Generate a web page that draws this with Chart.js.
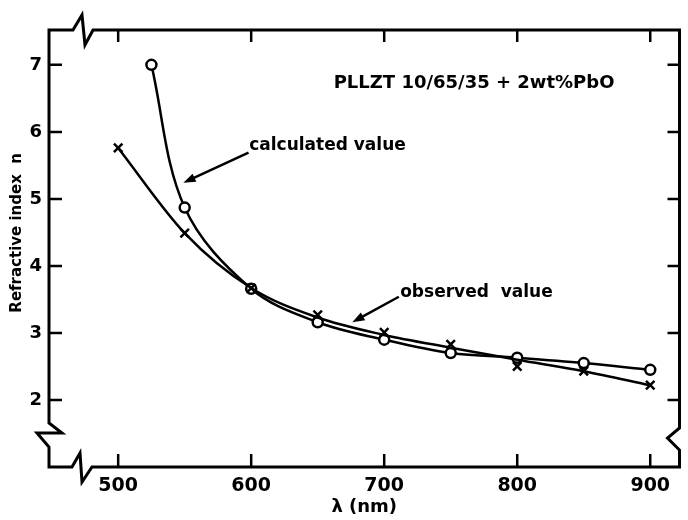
<!DOCTYPE html>
<html>
<head>
<meta charset="utf-8">
<script src="https://cdn.jsdelivr.net/npm/chart.js@4/dist/chart.umd.min.js"></script>
<style>
  html, body { margin: 0; padding: 0; background: #fff; }
  #wrap { width: 688px; height: 520px; position: relative; }
</style>
</head>
<body>
<div id="wrap"><canvas id="myChart"></canvas></div>
<script>
// ---------- Datos ----------
const observedWavelengths = [500, 550, 600, 650, 700, 750, 800, 850, 900];
const observedValues = [5.76, 4.49, 3.67, 3.27, 3.01, 2.83, 2.50, 2.43, 2.22];
// curva suave trazada a mano por los puntos observados
const observedCurve = [5.76, 4.49, 3.67, 3.23, 2.97, 2.78, 2.60, 2.43, 2.22];
const calculatedWavelengths = [525, 550, 600, 650, 700, 750, 800, 850, 900];
const calculatedValues = [7.0, 4.87, 3.66, 3.16, 2.90, 2.70, 2.63, 2.55, 2.45];
const xTicks = [500, 600, 700, 800, 900];
const yTicks = [2, 3, 4, 5, 6, 7];

const FONT = "'DejaVu Sans', sans-serif";

// notas en coordenadas de datos
const notas = [
  { text: 'PLLZT 10/65/35 + 2wt%PbO', x: 662, y: 6.73, size: 18 },
  { text: 'calculated value', x: 598.5, y: 5.79, size: 17 },
  { text: 'observed  value', x: 712, y: 3.60, size: 17 }
];
const flechas = [
  { from: [598, 5.69], to: [549, 5.24] },
  { from: [711, 3.54], to: [676, 3.16] }
];

function puntos(xs, ys) {
  return xs.map((x, i) => ({ x: x, y: ys[i] }));
}

// ---------- Marco con cortes y ticks hacia dentro ----------
const marco = {
  id: 'marco',
  beforeDatasetsDraw(chart) {
    const ctx = chart.ctx;
    const a = chart.chartArea;
    const L = a.left, R = a.right, T = a.top, B = a.bottom;
    const sx = chart.scales.x, sy = chart.scales.y;

    ctx.save();
    ctx.strokeStyle = '#000';
    ctx.lineWidth = 3;
    ctx.lineJoin = 'miter';
    ctx.beginPath();
    ctx.moveTo(L, B);
    ctx.lineTo(L, B - 20);
    ctx.lineTo(L - 12, B - 34);
    ctx.lineTo(L + 13, B - 34);
    ctx.lineTo(L, B - 44);
    ctx.lineTo(L, T);
    ctx.lineTo(L + 24, T);
    ctx.lineTo(L + 33, T - 15);
    ctx.lineTo(L + 36, T + 15);
    ctx.lineTo(L + 44, T);
    ctx.lineTo(R, T);
    ctx.lineTo(R, B - 39);
    ctx.lineTo(R - 12, B - 29);
    ctx.lineTo(R, B - 17);
    ctx.lineTo(R, B);
    ctx.lineTo(L + 43, B);
    ctx.lineTo(L + 33, B + 15);
    ctx.lineTo(L + 31, B - 14);
    ctx.lineTo(L + 23, B);
    ctx.closePath();
    ctx.stroke();

    ctx.lineWidth = 2.5;
    ctx.beginPath();
    xTicks.forEach(v => {
      const px = sx.getPixelForValue(v);
      ctx.moveTo(px, B); ctx.lineTo(px, B - 13);
      ctx.moveTo(px, T); ctx.lineTo(px, T + 12);
    });
    yTicks.forEach(v => {
      const py = sy.getPixelForValue(v);
      ctx.moveTo(L, py); ctx.lineTo(L + 13, py);
      ctx.moveTo(R, py); ctx.lineTo(R - 12, py);
    });
    ctx.stroke();
    ctx.restore();
  },
  afterDatasetsDraw(chart) {
    const ctx = chart.ctx;
    const sx = chart.scales.x, sy = chart.scales.y;
    ctx.save();
    ctx.fillStyle = '#000';
    ctx.strokeStyle = '#000';
    ctx.textBaseline = 'middle';
    ctx.textAlign = 'left';
    notas.forEach(n => {
      ctx.font = 'bold ' + n.size + 'px ' + FONT;
      ctx.fillText(n.text, sx.getPixelForValue(n.x), sy.getPixelForValue(n.y));
    });
    flechas.forEach(f => {
      const x1 = sx.getPixelForValue(f.from[0]), y1 = sy.getPixelForValue(f.from[1]);
      const x2 = sx.getPixelForValue(f.to[0]), y2 = sy.getPixelForValue(f.to[1]);
      const ang = Math.atan2(y2 - y1, x2 - x1);
      ctx.lineWidth = 2.5;
      ctx.beginPath();
      ctx.moveTo(x1, y1);
      ctx.lineTo(x2 - 8 * Math.cos(ang), y2 - 8 * Math.sin(ang));
      ctx.stroke();
      ctx.beginPath();
      ctx.moveTo(x2, y2);
      ctx.lineTo(x2 - 13 * Math.cos(ang - 0.35), y2 - 13 * Math.sin(ang - 0.35));
      ctx.lineTo(x2 - 13 * Math.cos(ang + 0.35), y2 - 13 * Math.sin(ang + 0.35));
      ctx.closePath();
      ctx.fill();
    });
    ctx.restore();
  }
};

// ---------- Gráfica ----------
const ctx = document.getElementById('myChart').getContext('2d');

new Chart(ctx, {
  type: 'line',
  data: {
    datasets: [
      {
        label: 'observed curve',
        data: puntos(observedWavelengths, observedCurve),
        borderColor: '#000',
        borderWidth: 2.5,
        cubicInterpolationMode: 'monotone',
        pointRadius: 0
      },
      {
        label: 'observed value',
        data: puntos(observedWavelengths, observedValues),
        showLine: false,
        pointStyle: 'crossRot',
        pointRadius: 6,
        pointBorderWidth: 2.5,
        pointBorderColor: '#000'
      },
      {
        label: 'calculated value',
        data: puntos(calculatedWavelengths, calculatedValues),
        borderColor: '#000',
        borderWidth: 2.5,
        tension: 0.35,
        pointStyle: 'circle',
        pointRadius: 5,
        pointBorderWidth: 2.5,
        pointBackgroundColor: '#fff',
        pointBorderColor: '#000'
      }
    ]
  },
  options: {
    responsive: true,
    maintainAspectRatio: false,
    animation: false,
    layout: { padding: { top: 30, right: 8, bottom: 0, left: 0 } },
    plugins: {
      legend: { display: false },
      tooltip: { enabled: false }
    },
    scales: {
      x: {
        type: 'linear',
        min: 448,
        max: 922,
        grid: { display: false, drawTicks: false },
        border: { display: false },
        afterBuildTicks: s => { s.ticks = xTicks.map(v => ({ value: v })); },
        afterFit: s => { s.height = 53; },
        ticks: {
          color: '#000',
          padding: 8,
          font: { family: FONT, size: 19, weight: 'bold' }
        },
        title: {
          display: true,
          text: 'λ (nm)',
          color: '#000',
          padding: { top: 0, bottom: 2 },
          font: { family: FONT, size: 18, weight: 'bold' }
        }
      },
      y: {
        min: 1,
        max: 7.52,
        grid: { display: false, drawTicks: false },
        border: { display: false },
        afterBuildTicks: s => { s.ticks = yTicks.map(v => ({ value: v })); },
        afterFit: s => { s.width = 49; },
        ticks: {
          color: '#000',
          padding: 7,
          font: { family: FONT, size: 18, weight: 'bold' }
        },
        title: {
          display: true,
          text: '      Refractive index  n',
          color: '#000',
          padding: { top: 8, bottom: 0 },
          font: { family: FONT, size: 15, weight: 'bold' }
        }
      }
    }
  },
  plugins: [marco]
});
</script>
</body>
</html>
